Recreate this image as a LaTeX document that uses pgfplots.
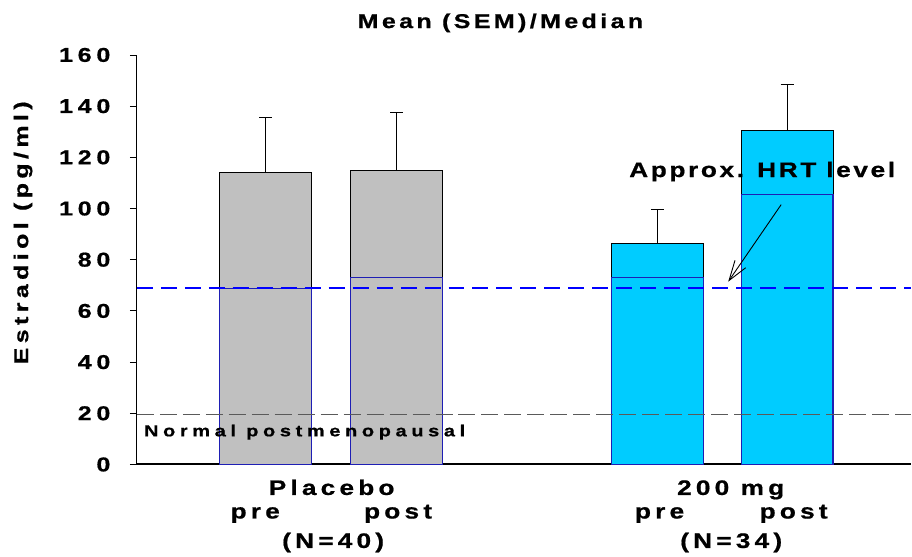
\documentclass[border=0pt]{standalone}
\usepackage{fontspec}
\setmainfont{Liberation Sans}
\newfontfamily\cf{Liberation Sans Bold}[FakeStretch=1.25,FakeBold=0.8]
\usepackage{pgfplots}
\pgfplotsset{compat=1.18}
\usetikzlibrary{arrows.meta}

\definecolor{bargray}{RGB}{192,192,192}
\definecolor{barcyan}{RGB}{0,204,255}
\definecolor{mededge}{RGB}{30,30,180}
\definecolor{hrtblue}{RGB}{0,0,255}
\definecolor{refgray}{RGB}{90,90,90}

% size, letter spacing
\newcommand\lbl[2]{\cf\addfontfeature{LetterSpace=#2}\fontsize{#1}{#1}\selectfont}

\begin{document}
\begin{tikzpicture}
\begin{axis}[
  x=1pt, y=2.5625pt,
  xmin=137, xmax=912, ymin=0, ymax=160,
  axis x line=bottom, axis y line=left,
  axis line style={-},
  x axis line style={line width=2pt},
  y axis line style={line width=1.1pt},
  xtick=\empty,
  ytick={0,20,...,160},
  tick align=outside, major tick length=7pt,
  tick style={black, line width=0.8pt},
  /pgf/number format/assume math mode=true,
  yticklabel style={font=\lbl{20}{24}, xshift=-16pt},
  clip=false,
]
% mean bars with SEM
\addplot[ybar, bar shift=0pt, bar width=92, fill=bargray, draw=black, line width=1pt,
  error bars/.cd, y dir=plus, y explicit,
  error bar style={black, line width=0.9pt},
  error mark options={rotate=90, mark size=6.5pt, line width=0.9pt}]
  coordinates {(266,114.2) +- (0,21.3) (397,114.7) +- (0,22.7)};
\addplot[ybar, bar shift=0pt, bar width=92, fill=barcyan, draw=black, line width=1pt,
  error bars/.cd, y dir=plus, y explicit,
  error bar style={black, line width=0.9pt},
  error mark options={rotate=90, mark size=6.5pt, line width=0.9pt}]
  coordinates {(658,86.5) +- (0,13.0) (788,130.3) +- (0,18.3)};
% medians
\addplot[ybar, bar shift=0pt, bar width=92, fill=bargray, draw=mededge, line width=1.2pt]
  coordinates {(266,68.6) (397,72.9)};
\addplot[ybar, bar shift=0pt, bar width=92, fill=barcyan, draw=mededge, line width=1.2pt]
  coordinates {(658,72.9) (788,105.4)};
% reference levels
\addplot[draw=hrtblue, line width=1.3pt, dash pattern=on 16pt off 8pt] coordinates {(137,69.0) (912,69.0)};
\addplot[draw=refgray, line width=1.1pt, dash pattern=on 17pt off 6pt] coordinates {(137,19.5) (912,19.5)};

\draw[line width=0.9pt, -{Straight Barb[length=20pt, width=13pt, line width=0.9pt]}]
  (axis cs:782,101.5) -- (axis cs:729,71.4);

\tikzset{lab/.style={anchor=base, inner sep=0pt, xshift=2pt}}
\node[lab, font=\lbl{20}{17}] at (axis cs:499,170.5) {Mean (SEM)/Median};
\node[rotate=90, inner sep=0pt, font=\lbl{20}{22}] at (axis cs:23,90.5) {Estradiol (pg/ml)};
\node[lab, font=\lbl{21}{12.5}] at (axis cs:761,112.3) {Approx. HRT level};
\node[anchor=base west, inner sep=0pt, font=\lbl{16}{29}] at (axis cs:144,11.0) {Normal postmenopausal};

\node[lab, font=\lbl{21}{20}] at (axis cs:330,-11.9) {Placebo};
\node[lab, font=\lbl{21}{20}] at (axis cs:253.5,-21.1) {pre};
\node[lab, font=\lbl{21}{20}] at (axis cs:396.5,-21.1) {post};
\node[lab, font=\lbl{21}{20}] at (axis cs:331.5,-32.6) {(N=40)};
\node[lab, font=\lbl{21}{20}] at (axis cs:729.5,-11.9) {200 mg};
\node[lab, font=\lbl{21}{20}] at (axis cs:658.3,-21.1) {pre};
\node[lab, font=\lbl{21}{20}] at (axis cs:792.5,-21.1) {post};
\node[lab, font=\lbl{21}{20}] at (axis cs:730,-32.6) {(N=34)};

\path (axis cs:0,181.46) rectangle (axis cs:912,-35.9);
\end{axis}
\end{tikzpicture}
\end{document}
